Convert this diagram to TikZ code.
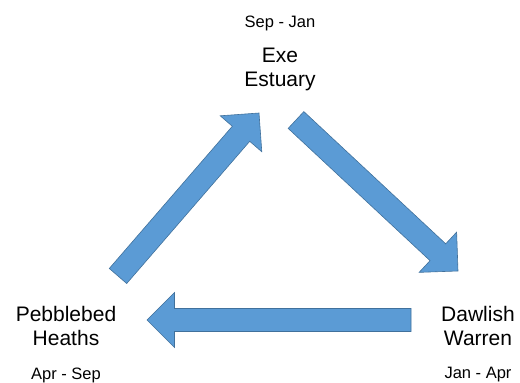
\documentclass[tikz,border=0pt]{standalone}
\usepackage{fontspec}
\setmainfont{Liberation Sans}
\usepackage{tikz}
\usetikzlibrary{calc,positioning}
\definecolor{arrowblue}{HTML}{5B9BD5}
\definecolor{arrowedge}{HTML}{41719C}

\begin{document}
\begin{tikzpicture}[x=1pt,y=1pt]
        \tikzstyle{site_node}=[align=center,inner sep=0pt,font=\fontsize{21}{24}\selectfont]
        \tikzstyle{date_node}=[inner sep=0pt,font=\fontsize{16.5}{18}\selectfont]
        \tikzstyle{block_arrow}=[fill=arrowblue,draw=arrowedge,line width=0.6pt,line join=miter,
            to path={($(\tikztostart)!11.5pt!90:(\tikztotarget)$)
              -- ($(\tikztotarget)!27.5pt!(\tikztostart)!11.5pt!90:(\tikztotarget)$)
              -- ($(\tikztotarget)!27.5pt!(\tikztostart)!27.5pt!90:(\tikztotarget)$)
              -- (\tikztotarget)
              -- ($(\tikztotarget)!27.5pt!(\tikztostart)!27.5pt!-90:(\tikztotarget)$)
              -- ($(\tikztotarget)!27.5pt!(\tikztostart)!11.5pt!-90:(\tikztotarget)$)
              -- ($(\tikztostart)!11.5pt!-90:(\tikztotarget)$) -- cycle}]
        \useasboundingbox (0,0) rectangle (520,383);

        \node[site_node]  (exe)     at (280,314)   {Exe\\Estuary};
        \node[site_node]  (pebble)  at (66,57)     {Pebblebed\\Heaths};
        \node[site_node]  (dawlish) at (478,57)    {Dawlish\\Warren};

        \node[date_node]  (exe_date)     [above=16pt of exe]     {Sep - Jan};
        \node[date_node]  (pebble_date)  [below=21.5pt of pebble]  {Apr - Sep};
        \node[date_node]  (dawlish_date) [below=21.5pt of dawlish] {Jan - Apr};

        % arrow ends
        \coordinate (to_exe_tail)     at (118,107);
        \coordinate (to_exe_tip)      at (259,270);
        \coordinate (to_dawlish_tail) at (296,263);
        \coordinate (to_dawlish_tip)  at (458,112);
        \coordinate (to_pebble_tail)  at (411,63);
        \coordinate (to_pebble_tip)   at (147,63);

    \path
    (to_exe_tail) edge[block_arrow] (to_exe_tip)
    (to_dawlish_tail) edge[block_arrow] (to_dawlish_tip)
    (to_pebble_tail) edge[block_arrow] (to_pebble_tip);

\end{tikzpicture}
\end{document}
